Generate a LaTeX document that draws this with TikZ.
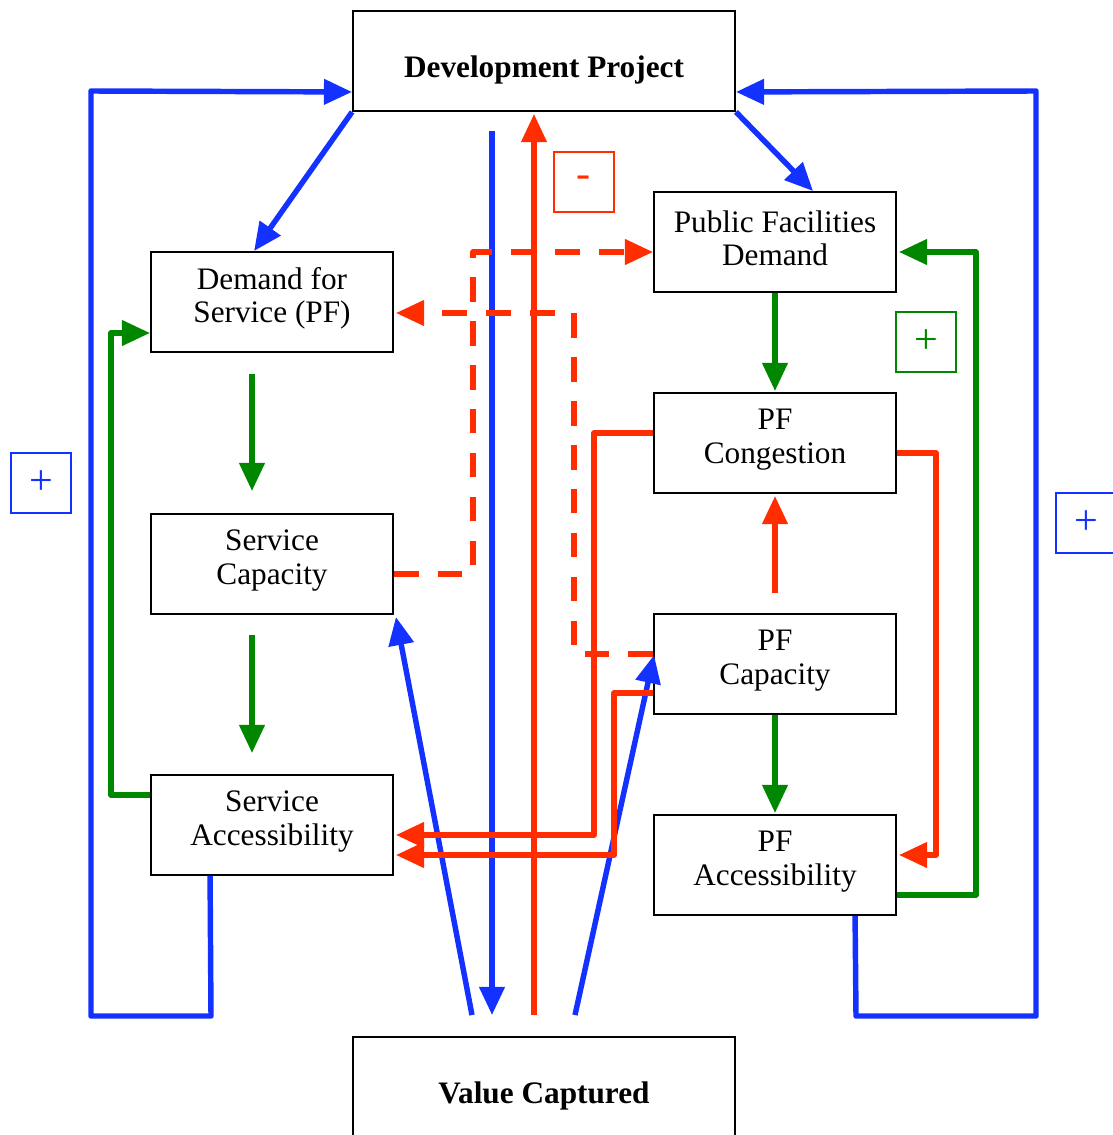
\documentclass[tikz,border=0pt]{standalone}
\usepackage{fontspec}
\setmainfont{Liberation Serif}
\usetikzlibrary{arrows.meta,calc}
\definecolor{cblue}{RGB}{20,50,255}
\definecolor{cred}{RGB}{255,45,0}
\definecolor{cgreen}{RGB}{0,135,0}
\begin{document}
\begin{tikzpicture}[x=0.02cm,y=-0.02cm,
  txt/.style={inner sep=0pt,align=center,font=\fontsize{17.8}{19}\selectfont},
  box/.style={draw=black,line width=1.1pt,minimum width=4.84cm,minimum height=2cm,inner sep=0pt},
  bigbox/.style={box,minimum width=7.64cm},
  signbox/.style={draw=#1,text=#1,line width=0.9pt,minimum width=1.2cm,minimum height=1.2cm,inner sep=0pt,font=\fontsize{24}{26}\selectfont},
  conn/.style={line width=3.1pt,line join=round,-{Triangle[length=16pt,width=14pt]}},
  bl/.style={conn,draw=cblue},
  rd/.style={conn,draw=cred},
  gr/.style={conn,draw=cgreen},
  rdd/.style={rd,dash pattern=on 14pt off 11pt}]
\useasboundingbox (0,0) rectangle (1112,1135);
\fill[white] (0,0) rectangle (1112,1135);
% nodes
\node[bigbox,label={[txt,yshift=-5pt]center:\textbf{Development Project}}] (dp) at (544,61) {};
\node[bigbox,minimum height=2.2cm,label={[txt,yshift=-2pt]center:\textbf{Value Captured}}] (vc) at (544,1092) {};
\node[box,label={[txt,yshift=2pt]center:Demand for\\Service (PF)}] (dfs) at (272,302) {};
\node[box,label={[txt,yshift=2pt]center:Service\\Capacity}] (sc) at (272,564) {};
\node[box,label={[txt,yshift=2pt]center:Service\\Accessibility}] (sa) at (272,825) {};
\node[box,label={[txt,yshift=2pt]center:Public Facilities\\Demand}] (pfd) at (775,242) {};
\node[box,label={[txt,yshift=2pt]center:PF\\Congestion}] (pcg) at (775,443) {};
\node[box,label={[txt,yshift=2pt]center:PF\\Capacity}] (pfc) at (775,664) {};
\node[box,label={[txt,yshift=2pt]center:PF\\Accessibility}] (pfa) at (775,865) {};
\node[signbox=cred] (minus) at (584,182) {-};
\node[signbox=cgreen] (gplus) at (926,342) {+};
\node[signbox=cblue] (lplus) at (41,483) {+};
\node[signbox=cblue] (rplus) at (1086,523) {+};
% blue loops
\draw[bl] ($(sa.south west)+(60,0)$) -- (211,1016) -- (91,1016) -- (91,91) -- ($(dp.south west)+(0,-20)$);
\draw[bl] ($(pfa.south west)+(202,0)$) -- (856,1016) -- (1036,1016) -- (1036,91) -- ($(dp.south east)+(0,-20)$);
\draw[bl] (dp.south west) -- ($(dfs.north west)+(104,0)$);
\draw[bl] (dp.south east) -- ($(pfd.north west)+(160,0)$);
% central verticals
\draw[bl] ($(dp.south)+(-52,19)$) -- ($(vc.north)+(-52,-21)$);
\draw[rd] ($(vc.north)+(-10,-21)$) -- ($(dp.south)+(-10,2)$);
% blue diagonals
\draw[bl] ($(vc.north)+(-72,-21)$) -- ($(sc.south east)+(2,2)$);
\draw[bl] ($(vc.north)+(31,-21)$) -- ($(pfc.west)+(1,-9)$);
% red solid
\draw[rd] ($(pcg.west)+(0,-10)$) -- (594,433) -- (594,835) -- ($(sa.east)+(2,10)$);
\draw[rd] ($(pfc.west)+(0,29)$) -- (614,693) -- (614,855) -- ($(sa.east)+(2,30)$);
\draw[rd] ($(pcg.east)+(0,10)$) -- (936,453) -- (936,855) -- ($(pfa.east)+(2,-10)$);
\draw[rd] ($(pfc.north)+(0,-20)$) -- ($(pcg.south)+(0,2)$);
% red dashed
\draw[rdd] ($(sc.east)+(0,10)$) -- (473,574) -- (473,252) -- ($(pfd.west)+(0,10)$);
\draw[rdd] ($(pfc.west)+(0,-10)$) -- (574,654) -- (574,313) -- ($(dfs.east)+(2,11)$);
% green
\draw[gr] ($(dfs.south)+(-20,21)$) -- ($(sc.north)+(-20,-22)$);
\draw[gr] ($(sc.south)+(-20,20)$) -- ($(sa.north)+(-20,-21)$);
\draw[gr] ($(sa.west)+(0,-30)$) -- (111,795) -- (111,333) -- ($(dfs.west)+(0,31)$);
\draw[gr] (pfd.south) -- ($(pcg.north)+(0,-1)$);
\draw[gr] (pfc.south) -- ($(pfa.north)+(0,-1)$);
\draw[gr] ($(pfa.east)+(0,30)$) -- (976,895) -- (976,252) -- ($(pfd.east)+(2,10)$);
\end{tikzpicture}
\end{document}
